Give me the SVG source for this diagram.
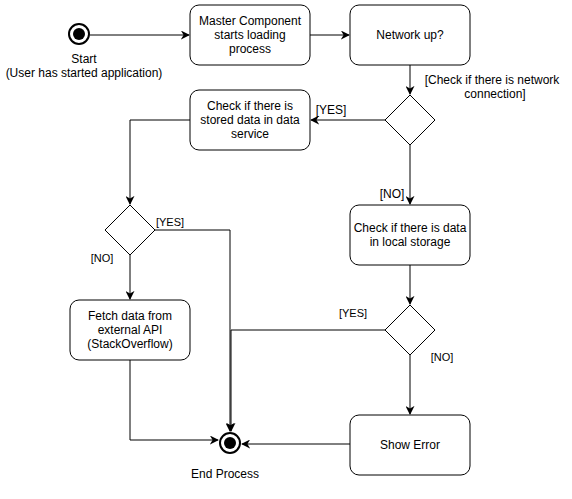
<svg xmlns="http://www.w3.org/2000/svg" width="572" height="499" viewBox="0 0 572 499">
<defs>
<marker id="arr" viewBox="0 0 10 10" refX="9" refY="5" markerWidth="9" markerHeight="9" markerUnits="userSpaceOnUse" orient="auto">
<path d="M0,0 L10,5 L0,10 L3,5 Z" fill="#000"/>
</marker>
<style>
.box{fill:#fff;stroke:#000;stroke-width:1}
.dia{fill:#fff;stroke:#000;stroke-width:1}
.t{font-family:"Liberation Sans",Arial,sans-serif;font-size:12px;fill:#000;text-anchor:middle}
.s{font-family:"Liberation Sans",Arial,sans-serif;font-size:11px;fill:#000;text-anchor:middle}
.e{fill:none;stroke:#000;stroke-width:1}
.ea{fill:none;stroke:#000;stroke-width:1;marker-end:url(#arr)}
</style>
</defs>
<rect width="572" height="499" fill="#fff"/>
<g id="edges">
<path class="ea" d="M90,35 L189,35"/>
<path class="ea" d="M310,35 L349,35"/>
<path class="ea" d="M410,65 L410,94"/>
<path class="ea" d="M385,120 L311,120"/>
<path class="ea" d="M190,120 L130,120 L130,204"/>
<path class="ea" d="M155,230 L230,230 L230,431"/>
<path class="ea" d="M130,255 L130,299"/>
<path class="ea" d="M130,360 L130,440 L218,440"/>
<path class="ea" d="M410,145 L410,204"/>
<path class="ea" d="M410,265 L410,304"/>
<path class="ea" d="M385,330 L231,330 L231,431"/>
<path class="ea" d="M410,355 L410,414"/>
<path class="ea" d="M350,444 L242,444"/>
<text class="t" x="492" y="84">[Check if there is network</text>
<text class="t" x="495" y="98">connection]</text>
<text class="t" x="331" y="114">[YES]</text>
<text class="s" x="170" y="226">[YES]</text>
<text class="s" x="102" y="262">[NO]</text>
<text class="t" x="392" y="198">[NO]</text>
<text class="s" x="353" y="317">[YES]</text>
<text class="s" x="442" y="361">[NO]</text>
</g>
<g id="start">
<circle cx="79" cy="34" r="10" fill="#fff" stroke="#000" stroke-width="2"/>
<circle cx="79" cy="34" r="6" fill="#000"/>
<text class="t" x="84" y="63">Start</text>
<text class="t" x="84" y="77">(User has started application)</text>
</g>
<g id="master">
<rect class="box" x="190" y="5" width="120" height="60" rx="9"/>
<text class="t" x="250" y="25">Master Component</text>
<text class="t" x="250" y="39">starts loading</text>
<text class="t" x="250" y="53">process</text>
</g>
<g id="network">
<rect class="box" x="350" y="5" width="120" height="60" rx="9"/>
<text class="t" x="410" y="39">Network up?</text>
</g>
<g id="decision1">
<path class="dia" d="M410,95 L435,120 L410,145 L385,120 Z"/>
</g>
<g id="stored">
<rect class="box" x="190" y="90" width="120" height="60" rx="9"/>
<text class="t" x="250" y="110">Check if there is</text>
<text class="t" x="250" y="124">stored data in data</text>
<text class="t" x="250" y="138">service</text>
</g>
<g id="decision2">
<path class="dia" d="M130,205 L155,230 L130,255 L105,230 Z"/>
</g>
<g id="fetch">
<rect class="box" x="70" y="300" width="120" height="60" rx="9"/>
<text class="t" x="130" y="320">Fetch data from</text>
<text class="t" x="130" y="334">external API</text>
<text class="t" x="130" y="348">(StackOverflow)</text>
</g>
<g id="local">
<rect class="box" x="350" y="205" width="120" height="60" rx="9"/>
<text class="t" x="410" y="232">Check if there is data</text>
<text class="t" x="410" y="246">in local storage</text>
</g>
<g id="decision3">
<path class="dia" d="M410,305 L435,330 L410,355 L385,330 Z"/>
</g>
<g id="error">
<rect class="box" x="350" y="415" width="120" height="60" rx="9"/>
<text class="t" x="410" y="449">Show Error</text>
</g>
<g id="end">
<circle cx="230" cy="443" r="10" fill="#fff" stroke="#000" stroke-width="2"/>
<circle cx="230" cy="443" r="6" fill="#000"/>
<text class="t" x="225" y="478">End Process</text>
</g>
</svg>
